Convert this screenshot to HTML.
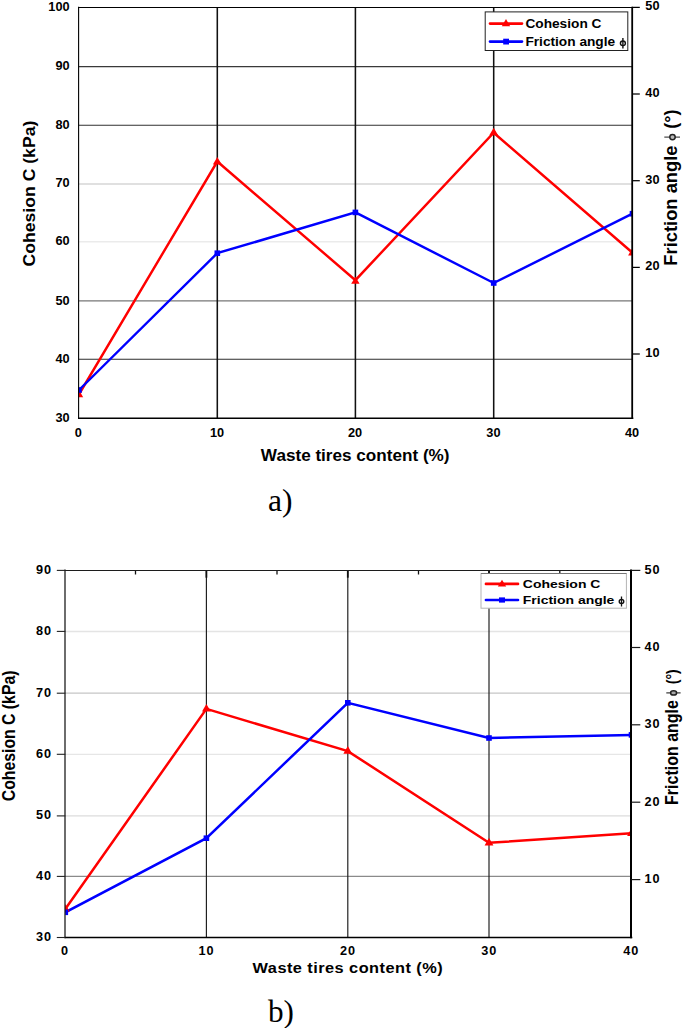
<!DOCTYPE html>
<html><head><meta charset="utf-8">
<style>
html,body{margin:0;padding:0;background:#fff;}
svg{display:block;}
text{font-family:"Liberation Sans",sans-serif;font-weight:bold;fill:#000;}
.ser{font-family:"Liberation Serif",serif;font-weight:normal;}
</style></head><body>
<svg width="685" height="1028" viewBox="0 0 685 1028">
<rect width="685" height="1028" fill="#fff"/>

<!-- ============ CHART A ============ -->
<g id="A">
<!-- gridlines -->
<g stroke-width="1.1" fill="none">
<line x1="79" x2="632.2" y1="66.600" y2="66.600" stroke="#3a3a3a"/>
<line x1="79" x2="632.2" y1="125.200" y2="125.200" stroke="#303030"/>
<line x1="79" x2="632.2" y1="183.900" y2="183.900" stroke="#d6d6d6" stroke-width="1.500"/>
<line x1="79" x2="632.2" y1="241.700" y2="241.700" stroke="#ebebeb" stroke-width="1.400"/>
<line x1="79" x2="632.2" y1="300.900" y2="300.900" stroke="#777777"/>
<line x1="79" x2="632.2" y1="359.300" y2="359.300" stroke="#2c2c2c"/>
</g>
<g stroke="#111" stroke-width="1.55">
<line x1="217.3" x2="217.3" y1="7.4" y2="418.3"/>
<line x1="355.4" x2="355.4" y1="7.4" y2="418.3"/>
<line x1="493.7" x2="493.7" y1="7.4" y2="418.3"/>
</g>
<!-- data -->
<clipPath id="clipA"><rect x="78.6" y="7" width="553.6" height="412"/></clipPath>
<g clip-path="url(#clipA)">
<polyline points="79,394.300 217.3,161.500 355.4,280.2 493.7,132.7 632.5,252.8" fill="none" stroke="#ff0000" stroke-width="2.45" stroke-linejoin="miter"/>
<polyline points="79,390 217.3,253.2 355.4,212.4 493.7,283 632.5,213.7" fill="none" stroke="#0000ff" stroke-width="2.45" stroke-linejoin="miter"/>
<g fill="#ff0000">
<path d="M79,390 l4.200,7.200 h-8.400 z"/>
<path d="M217.3,157.0 l4.4,7.6 h-8.8 z"/>
<path d="M355.4,276.700 l4.200,7 h-8.400 z"/>
<path d="M493.7,127.7 l4.4,7.6 h-8.8 z"/>
<path d="M632.5,247.8 l4.4,7.6 h-8.8 z"/>
</g>
<g fill="#0000ff">
<rect x="76.200" y="387.200" width="5.600" height="5.600"/>
<rect x="214.500" y="250.400" width="5.600" height="5.600"/>
<rect x="352.600" y="209.600" width="5.600" height="5.600"/>
<rect x="490.900" y="280.200" width="5.600" height="5.600"/>
<rect x="629.700" y="210.900" width="5.600" height="5.600"/>
</g>
</g>
<!-- frame -->
<g stroke="#000" fill="none">
<line x1="78.600" x2="78.600" y1="6.800" y2="419" stroke-width="1.100"/>
<line x1="78.100" x2="633.100" y1="7.500" y2="7.500" stroke-width="1.150"/>
<line x1="78.300" x2="633.300" y1="418.300" y2="418.300" stroke-width="1.6"/>
<line x1="632.200" x2="632.200" y1="6.800" y2="419" stroke-width="1.800"/>
</g>
<!-- right ticks -->
<g stroke="#000" stroke-width="1.25">
<line x1="632.200" x2="639.800" y1="7.400" y2="7.400"/>
<line x1="632.200" x2="639.800" y1="94.000" y2="94.000"/>
<line x1="632.200" x2="639.800" y1="180.700" y2="180.700"/>
<line x1="632.200" x2="639.800" y1="267.400" y2="267.400"/>
<line x1="632.200" x2="639.800" y1="354.000" y2="354.000"/>
</g>
<!-- left tick labels -->
<g font-size="13.250" text-anchor="end">
<text transform="translate(69.6,11.1) scale(0.962,1)">100</text>
<text transform="translate(69.6,69.8) scale(0.962,1)">90</text>
<text transform="translate(69.6,128.5) scale(0.962,1)">80</text>
<text transform="translate(69.6,187.2) scale(0.962,1)">70</text>
<text transform="translate(69.6,245.4) scale(0.962,1)">60</text>
<text transform="translate(69.6,304.6) scale(0.962,1)">50</text>
<text transform="translate(69.6,363.0) scale(0.962,1)">40</text>
<text transform="translate(69.6,421.7) scale(0.962,1)">30</text>
</g>
<!-- right tick labels -->
<g font-size="13.250" text-anchor="start">
<text transform="translate(645.3,10.2) scale(0.962,1)">50</text>
<text transform="translate(645.3,96.8) scale(0.962,1)">40</text>
<text transform="translate(645.3,183.5) scale(0.962,1)">30</text>
<text transform="translate(645.3,270.2) scale(0.962,1)">20</text>
<text transform="translate(645.3,356.8) scale(0.962,1)">10</text>
</g>
<!-- bottom tick labels -->
<g font-size="13.250" text-anchor="middle">
<text transform="translate(78.3,437.4) scale(0.962,1)">0</text>
<text transform="translate(217.0,437.4) scale(0.962,1)">10</text>
<text transform="translate(355.1,437.4) scale(0.962,1)">20</text>
<text transform="translate(493.4,437.4) scale(0.962,1)">30</text>
<text transform="translate(632.1,437.4) scale(0.962,1)">40</text>
</g>
<!-- axis titles -->
<text transform="translate(355.200,461.200) scale(1.078,1)" font-size="15.900" text-anchor="middle">Waste tires content (%)</text>
<text transform="translate(35.200,193.600) rotate(-90) scale(1.068,1)" font-size="16.500" text-anchor="middle">Cohesion C (kPa)</text>
<text transform="translate(677.300,265.700) rotate(-90)" font-size="18.350" text-anchor="start">Friction angle</text>
<g stroke="#222" fill="none">
<line x1="664.300" x2="680" y1="137.100" y2="137.100" stroke-width="1"/>
<ellipse cx="672.500" cy="137.100" rx="2.700" ry="2.700" stroke-width="1.500" fill="#b8b8b8"/>
</g>
<text transform="translate(677.300,128.700) rotate(-90)" font-size="18" text-anchor="start">(°)</text>
<!-- legend -->
<rect x="485.200" y="11.900" width="142.600" height="38.600" fill="#fff" stroke="#222" stroke-width="1"/>
<line x1="490" x2="522" y1="23.600" y2="23.600" stroke="#ff0000" stroke-width="2.600" stroke-linecap="round"/>
<path d="M506,19.100 l4.200,7.200 h-8.400 z" fill="#ff0000"/>
<line x1="490" x2="522" y1="41.600" y2="41.600" stroke="#0000ff" stroke-width="2.600" stroke-linecap="round"/>
<rect x="503.200" y="38.700" width="5.800" height="5.800" fill="#0000ff"/>
<text x="525.400" y="28" font-size="13.700">Cohesion C</text>
<text x="525.400" y="46" font-size="13.700">Friction angle</text>
<g stroke="#111" fill="none" stroke-width="1.400">
<ellipse cx="622.900" cy="43.300" rx="2.500" ry="2.300"/>
<line x1="622.900" x2="622.900" y1="38" y2="48.600"/>
</g>
<text x="268" y="510.800" font-size="31.600" class="ser">a)</text>
</g>
<!-- ============ CHART B ============ -->
<g id="B">
<g stroke-width="1.2" fill="none">
<line x1="65.3" x2="631.5" y1="631.4" y2="631.4" stroke="#e4e4e4" stroke-width="1.500"/>
<line x1="65.3" x2="631.5" y1="693.2" y2="693.2" stroke="#c6c6c6"/>
<line x1="65.3" x2="631.5" y1="754.3" y2="754.3" stroke="#e6e6e6"/>
<line x1="65.3" x2="631.5" y1="815.9" y2="815.9" stroke="#dcdcdc"/>
<line x1="65.3" x2="631.5" y1="876.4" y2="876.4" stroke="#8a8a8a"/>
</g>
<g stroke="#1a1a1a" stroke-width="1.15">
<line x1="206.4" x2="206.4" y1="570.2" y2="937.5"/>
<line x1="347.8" x2="347.8" y1="570.2" y2="937.5"/>
<line x1="489.0" x2="489.0" y1="570.2" y2="937.5"/>
</g>
<g stroke="#111" stroke-width="1.3">
<line x1="135.5" x2="135.5" y1="570.2" y2="574.5"/>
<line x1="277" x2="277" y1="570.2" y2="574.5"/>
<line x1="418.5" x2="418.5" y1="570.2" y2="574.5"/>
<line x1="559.8" x2="559.8" y1="570.2" y2="574.5"/>
</g><g stroke="#111" stroke-width="1.8">
<line x1="206.4" x2="206.4" y1="570.2" y2="577.7"/>
<line x1="347.8" x2="347.8" y1="570.2" y2="577.7"/>
<line x1="489.0" x2="489.0" y1="570.2" y2="577.7"/>
</g>
<clipPath id="clipB"><rect x="65.3" y="569.8" width="566.2" height="368.4"/></clipPath>
<g clip-path="url(#clipB)">
<polyline points="65.3,909 206.4,708.9 347.8,751.1 489.0,842.8 631.5,833.3" fill="none" stroke="#ff0000" stroke-width="2.500" stroke-linejoin="miter"/>
<polyline points="65.3,912.3 206.4,838.2 347.8,702.8 489.0,738 631.5,734.9" fill="none" stroke="#0000ff" stroke-width="2.500" stroke-linejoin="miter"/>
<g fill="#ff0000">
<path d="M65.3,904.0 l4.4,7.6 h-8.8 z"/>
<path d="M206.4,703.9 l4.4,7.6 h-8.8 z"/>
<path d="M347.8,746.1 l4.4,7.6 h-8.8 z"/>
<path d="M489.0,837.8 l4.4,7.6 h-8.8 z"/>
<path d="M631.5,828.3 l4.4,7.6 h-8.8 z"/>
</g><g fill="#0000ff">
<rect x="62.5" y="909.5" width="5.600" height="5.600"/>
<rect x="203.6" y="835.4" width="5.600" height="5.600"/>
<rect x="345.0" y="700.0" width="5.600" height="5.600"/>
<rect x="486.2" y="735.2" width="5.600" height="5.600"/>
<rect x="628.7" y="732.1" width="5.600" height="5.600"/>
</g></g>
<g stroke="#000" fill="none">
<line x1="65.000" x2="65.000" y1="569.6" y2="938.2" stroke-width="1.150"/>
<line x1="64.5" x2="632" y1="570.400" y2="570.400" stroke-width="1.050" stroke="#1c1c1c"/>
<line x1="64.7" x2="632.3" y1="937.5" y2="937.5" stroke-width="1.500"/>
<line x1="631.000" x2="631.000" y1="569.6" y2="938.2" stroke-width="2"/>
</g>
<g stroke="#222" stroke-width="1.100">
<line x1="56.8" x2="65.3" y1="570.400" y2="570.400"/>
<line x1="56.8" x2="65.3" y1="631.4" y2="631.4"/>
<line x1="56.8" x2="65.3" y1="693.2" y2="693.2"/>
<line x1="56.8" x2="65.3" y1="754.3" y2="754.3"/>
<line x1="56.8" x2="65.3" y1="815.9" y2="815.9"/>
<line x1="56.8" x2="65.3" y1="876.4" y2="876.4"/>
<line x1="56.8" x2="65.3" y1="937.5" y2="937.5"/>
</g>
<g stroke="#1a1a1a" stroke-width="1.200">
<line x1="631.5" x2="640.300" y1="570.400" y2="570.400"/>
<line x1="631.5" x2="640.300" y1="647.5" y2="647.5"/>
<line x1="631.5" x2="640.300" y1="724.8" y2="724.8"/>
<line x1="631.5" x2="640.300" y1="802.2" y2="802.2"/>
<line x1="631.5" x2="640.300" y1="879.6" y2="879.6"/>
</g>
<g font-size="12" text-anchor="end" letter-spacing="0.9">
<text transform="translate(52.000,573.5) scale(1.060,1)">90</text>
<text transform="translate(52.000,634.7) scale(1.060,1)">80</text>
<text transform="translate(52.000,696.5) scale(1.060,1)">70</text>
<text transform="translate(52.000,757.6) scale(1.060,1)">60</text>
<text transform="translate(52.000,819.2) scale(1.060,1)">50</text>
<text transform="translate(52.000,879.7) scale(1.060,1)">40</text>
<text transform="translate(52.000,940.8) scale(1.060,1)">30</text>
</g>
<g font-size="12" text-anchor="start" letter-spacing="0.9">
<text transform="translate(644.400,573.5) scale(1.060,1)">50</text>
<text transform="translate(644.400,650.8) scale(1.060,1)">40</text>
<text transform="translate(644.400,728.1) scale(1.060,1)">30</text>
<text transform="translate(644.400,805.5) scale(1.060,1)">20</text>
<text transform="translate(644.400,882.9) scale(1.060,1)">10</text>
</g>
<g font-size="12" text-anchor="middle" letter-spacing="0.9">
<text transform="translate(64.9,954.800) scale(1.060,1)">0</text>
<text transform="translate(206.5,954.800) scale(1.060,1)">10</text>
<text transform="translate(347.9,954.800) scale(1.060,1)">20</text>
<text transform="translate(489.2,954.800) scale(1.060,1)">30</text>
<text transform="translate(631.2,954.800) scale(1.060,1)">40</text>
</g>
<text transform="translate(347.800,972.700) scale(1.120,1)" font-size="14.600" letter-spacing="0.4" text-anchor="middle">Waste tires content (%)</text>
<text transform="translate(15.300,735.900) rotate(-90) scale(1,1.130)" font-size="15.800" text-anchor="middle">Cohesion C (kPa)</text>
<text transform="translate(677.600,804.900) rotate(-90) scale(1,1.110)" font-size="16" text-anchor="start">Friction angle</text>
<g stroke="#222" fill="none"><line x1="666.300" x2="680.600" y1="692.900" y2="692.900" stroke-width="1.100"/><ellipse cx="673.600" cy="692.900" rx="3" ry="2.100" stroke-width="1.500" fill="#a8a8a8"/></g>
<text transform="translate(677.500,684.300) rotate(-90) scale(0.900,1.080)" font-size="15.800" text-anchor="start">(°)</text>
<rect x="481" y="573.500" width="145.400" height="34.700" fill="#fff" stroke="#b4b4b4" stroke-width="1"/><line x1="481" x2="626.4" y1="573.500" y2="573.500" stroke="#777" stroke-width="1"/>
<line x1="485.900" x2="518" y1="583.900" y2="583.900" stroke="#ff0000" stroke-width="2.600" stroke-linecap="round"/>
<path d="M502,579.700 l4.200,6.800 h-8.400 z" fill="#ff0000"/>
<line x1="485.900" x2="518" y1="600" y2="600" stroke="#0000ff" stroke-width="2.600" stroke-linecap="round"/>
<rect x="499" y="597.400" width="6" height="5.200" fill="#0000ff"/>
<text transform="translate(522.800,588.100) scale(1.195,1)" font-size="11.700">Cohesion C</text>
<text transform="translate(522.800,604.200) scale(1.195,1)" font-size="11.700">Friction angle</text>
<g stroke="#111" fill="none" stroke-width="1.300"><ellipse cx="621.500" cy="601.500" rx="2.300" ry="2"/><line x1="621.500" x2="621.500" y1="596.500" y2="606.500"/></g>
<text x="268" y="1021.900" font-size="31.200" class="ser">b)</text>
</g>
</svg>
</body></html>
